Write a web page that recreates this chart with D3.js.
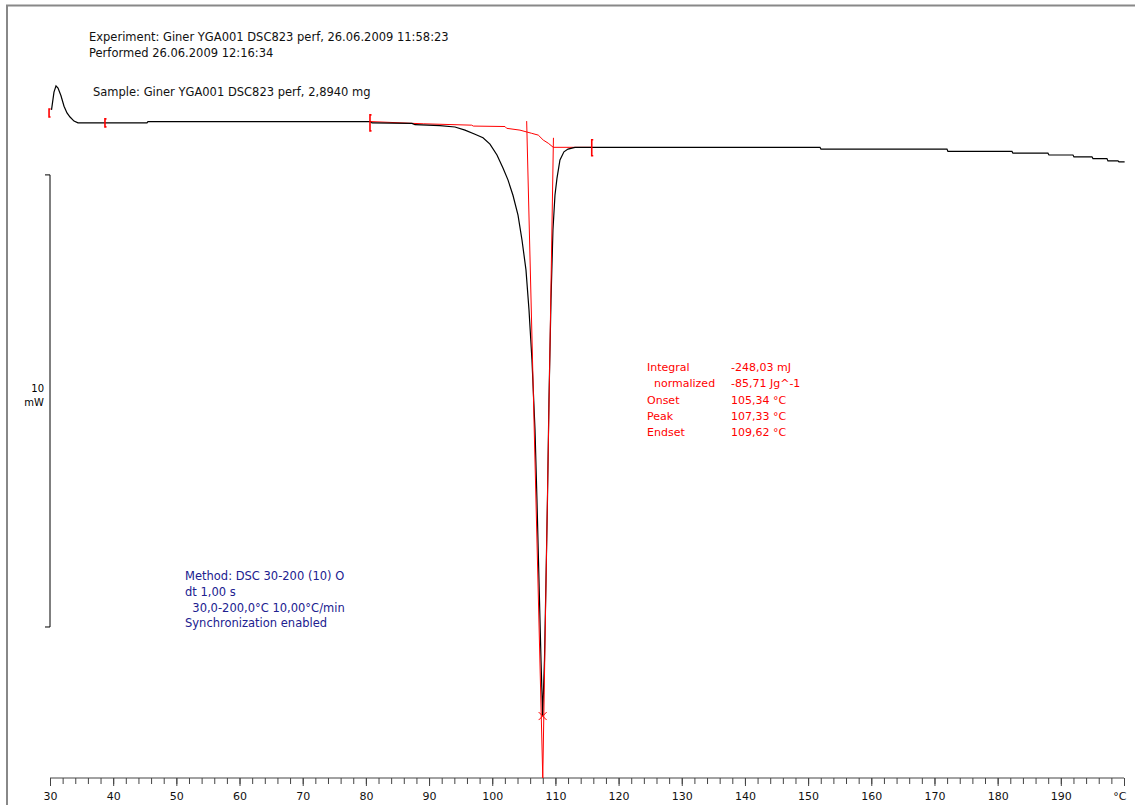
<!DOCTYPE html>
<html>
<head>
<meta charset="utf-8">
<script src="https://cdn.jsdelivr.net/npm/d3@7"></script>
<style>
  body { margin: 0; background: #fff; }
  text { font-family: "DejaVu Sans", Verdana, sans-serif; }
</style>
</head>
<body>
<div id="canvas"></div>
<script>
// DSC curve, temperature in °C and heat flow in mW (relative, endo down)
const curveTemp = [30.24, 30.63, 30.95, 31.27, 31.74, 32.22, 32.69, 33.17, 33.80, 34.43,
  45.35, 45.51, 80.65, 80.97, 87.30, 87.77, 91.73, 94.10, 95.69, 97.27,
  98.54, 99.64, 100.75, 101.70, 102.49, 103.28, 104.08, 104.71, 105.34, 105.82,
  106.29, 106.77, 107.08, 107.40, 107.72, 107.98, 108.27, 108.51, 108.74, 108.98,
  109.30, 109.61, 109.93, 110.25, 110.72, 111.35, 111.99, 113.10, 151.88, 152.03,
  171.98, 172.13, 182.27, 182.42, 187.96, 188.12, 191.92, 192.08, 194.93, 195.09,
  197.30, 197.46, 199.04, 199.20, 200.10];
const curveFlow = [0.27, 0.66, 0.80, 0.75, 0.58, 0.35, 0.20, 0.11, 0.02, -0.02,
  -0.02, 0.01, 0.01, -0.02, -0.03, -0.06, -0.08, -0.11, -0.18, -0.27,
  -0.35, -0.49, -0.73, -1.02, -1.28, -1.62, -2.06, -2.61, -3.27, -4.16,
  -5.27, -6.81, -8.36, -10.13, -11.90, -13.14, -11.90, -10.13, -8.36, -6.15,
  -3.94, -2.39, -1.62, -1.24, -0.84, -0.66, -0.60, -0.56, -0.56, -0.60,
  -0.60, -0.65, -0.65, -0.69, -0.69, -0.73, -0.73, -0.77, -0.77, -0.81,
  -0.81, -0.86, -0.86, -0.88, -0.88];

// integration baseline
const baseTemp = [80.65, 89.09, 96.75, 97.00, 102.02, 102.29, 104.39, 106.24, 107.29, 108.08, 108.87, 109.66, 115.74];
const baseFlow = [0.01, -0.04, -0.07, -0.09, -0.10, -0.14, -0.18, -0.25, -0.29, -0.40, -0.47, -0.56, -0.56];

// tangents (onset / endset)
const onsetLine = [[105.45, 0.02], [108.00, -14.51]];
const endsetLine = [[109.69, -0.35], [108.00, -14.51]];
const peakPoint = [107.98, -13.14];

// evaluation limit markers
const limitTemp = [29.85, 38.70, 80.65, 115.75];
const limitFlow = [0.20, -0.02, -0.02, -0.57];

const scaleBar = [-1.17, -11.17]; // 10 mW
const xMajor = d3.range(30, 201, 10);
const xMinor = d3.range(30, 201, 2);

const headerLines = ["Experiment: Giner YGA001 DSC823 perf, 26.06.2009 11:58:23", "Performed 26.06.2009 12:16:34"];
const sampleLine = "Sample: Giner YGA001 DSC823 perf, 2,8940 mg";
const resultLabels = ["Integral", "  normalized", "Onset", "Peak", "Endset"];
const resultValues = ["-248,03 mJ", "-85,71 Jg^-1", "105,34 °C", "107,33 °C", "109,62 °C"];
const methodLines = ["Method: DSC 30-200 (10) O", "dt 1,00 s", "  30,0-200,0°C 10,00°C/min", "Synchronization enabled"];

const W = 1135, H = 805;
const svg = d3.select("#canvas").append("svg")
    .attr("width", W)
    .attr("height", H);

const x = d3.scaleLinear().domain([30, 200]).range([50, 1124]);
const y = d3.scaleLinear().domain([0, -14.51]).range([122, 778]);

// frame
svg.append("line").attr("x1", 7).attr("x2", 7).attr("y1", 5).attr("y2", H)
    .style("stroke", "#888").style("stroke-width", 2);
svg.append("line").attr("x1", 6).attr("x2", W).attr("y1", 5.5).attr("y2", 5.5)
    .style("stroke", "#888").style("stroke-width", 2);

// x axis
const minorAxis = d3.axisBottom(x).tickValues(xMinor).tickSize(6).tickFormat("");
const majorAxis = d3.axisBottom(x).tickValues(xMajor).tickSize(8).tickPadding(6)
    .tickFormat(d => d === 200 ? "°C" : d);

const gMinor = svg.append("g").attr("transform", "translate(0,778)").call(minorAxis);
const gMajor = svg.append("g").attr("transform", "translate(0,778)").call(majorAxis);
gMinor.select(".domain").remove();
svg.selectAll(".tick line").style("stroke", "#444");
gMajor.select(".domain").style("stroke", "#444").attr("d", "M50,0H1124");
gMajor.selectAll("text").style("font-size", "11px").style("fill", "#111");
gMajor.selectAll(".tick").filter(d => d === 200).select("text")
    .attr("text-anchor", "end").attr("dx", 2);

// scale bar
const sb = svg.append("g").style("stroke", "#000").style("fill", "none");
sb.append("path")
    .attr("d", `M45,${y(scaleBar[0])}H50V${y(scaleBar[1])}H45`);
svg.append("text").attr("x", 44).attr("y", 392).attr("text-anchor", "end")
    .style("font-size", "10px").text("10");
svg.append("text").attr("x", 44).attr("y", 406).attr("text-anchor", "end")
    .style("font-size", "10px").text("mW");

// curves
const line = d3.line().x(d => x(d[0])).y(d => y(d[1]));

svg.append("path")
    .datum(baseTemp.map((t, i) => [t, baseFlow[i]]))
    .attr("d", line)
    .style("fill", "none").style("stroke", "#ff0000").style("stroke-width", 1);

svg.append("path")
    .datum(curveTemp.map((t, i) => [t, curveFlow[i]]))
    .attr("d", line)
    .style("fill", "none").style("stroke", "#000").style("stroke-width", 1.2);

[onsetLine, endsetLine].forEach(l => {
  svg.append("path").datum(l).attr("d", line)
      .style("fill", "none").style("stroke", "#ff0000").style("stroke-width", 1);
});

// peak cross
const px = x(peakPoint[0]), py = y(peakPoint[1]);
svg.append("path")
    .attr("d", `M${px - 4},${py - 4}L${px + 4},${py + 4}M${px - 4},${py + 4}L${px + 4},${py - 4}`)
    .style("stroke", "#ff0000").style("stroke-width", 1);

// limit markers
limitTemp.forEach((t, i) => {
  const h = i < 2 ? 4 : 8;
  const cx = x(t), cy = y(limitFlow[i]);
  svg.append("path")
      .attr("d", `M${cx + 1.5},${cy - h}H${cx}V${cy + h}H${cx + 1.5}`)
      .style("fill", "none").style("stroke", "#ff0000").style("stroke-width", 1.6);
});

// texts
svg.selectAll(".hdr").data(headerLines).enter().append("text")
    .attr("x", 89).attr("y", (d, i) => 41 + i * 16)
    .style("font-size", "11.5px").style("fill", "#111").text(d => d);
svg.append("text").attr("x", 93).attr("y", 96)
    .style("font-size", "11.5px").style("fill", "#111").text(sampleLine);

svg.selectAll(".rl").data(resultLabels).enter().append("text")
    .attr("x", 647).attr("y", (d, i) => 371 + i * 16.3)
    .attr("xml:space", "preserve")
    .style("font-size", "11px").style("fill", "#ff0000").text(d => d);
svg.selectAll(".rv").data(resultValues).enter().append("text")
    .attr("x", 731).attr("y", (d, i) => 371 + i * 16.3)
    .style("font-size", "11px").style("fill", "#ff0000").text(d => d);

svg.selectAll(".ml").data(methodLines).enter().append("text")
    .attr("x", 185).attr("y", (d, i) => 580 + i * 15.8)
    .attr("xml:space", "preserve")
    .style("font-size", "11.5px").style("fill", "#20208f").text(d => d);
</script>
</body>
</html>
